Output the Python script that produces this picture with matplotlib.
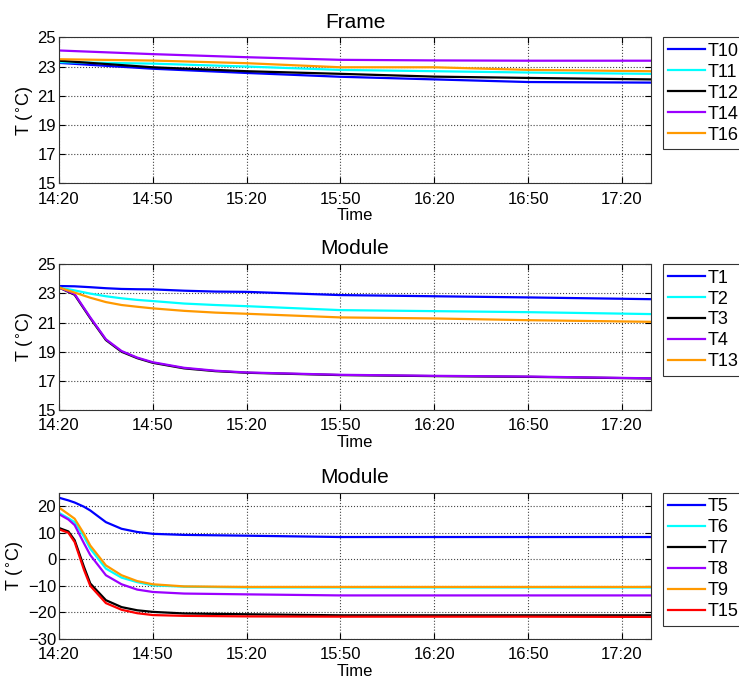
import matplotlib.pyplot as plt
from matplotlib.ticker import FixedLocator
import numpy as np

plt.rcParams['font.family'] = ['Liberation Sans', 'DejaVu Sans']

# time in minutes after 14:20
tick_min = [0, 30, 60, 90, 120, 150, 180]
tick_lab = ['14:20', '14:50', '15:20', '15:50', '16:20', '16:50', '17:20']

# Frame sensors
t_frame = [0, 30, 60, 90, 120, 150, 189]
T10 = [23.25, 22.85, 22.56, 22.30, 22.12, 21.94, 21.90]
T11 = [23.30, 23.20, 23.00, 22.77, 22.68, 22.59, 22.50]
T12 = [23.40, 22.95, 22.68, 22.50, 22.31, 22.22, 22.12]
T14 = [24.10, 23.85, 23.64, 23.46, 23.42, 23.40, 23.40]
T16 = [23.50, 23.41, 23.23, 22.95, 22.95, 22.77, 22.68]

# Module (upper) sensors
t_mod = [0, 5, 10, 15, 20, 25, 30, 40, 50, 60, 90, 120, 150, 189]
T1 = [23.50, 23.48, 23.42, 23.35, 23.30, 23.28, 23.27, 23.18, 23.12, 23.10, 22.88, 22.80, 22.72, 22.60]
T2 = [23.40, 23.20, 22.98, 22.80, 22.66, 22.55, 22.47, 22.30, 22.20, 22.12, 21.85, 21.78, 21.71, 21.58]
T3 = [23.40, 22.90, 21.30, 19.80, 19.00, 18.56, 18.24, 17.86, 17.67, 17.56, 17.40, 17.33, 17.28, 17.17]
T4 = [23.40, 22.95, 21.35, 19.85, 19.05, 18.60, 18.28, 17.90, 17.70, 17.58, 17.42, 17.35, 17.30, 17.18]
T13 = [23.40, 23.05, 22.70, 22.40, 22.20, 22.08, 21.97, 21.80, 21.68, 21.60, 21.35, 21.28, 21.16, 21.05]

# Module (lower) sensors
t_low = [0, 3, 5, 8, 10, 15, 20, 25, 30, 40, 60, 90, 120, 150, 189]
T5 = [23.2, 22.2, 21.4, 19.8, 18.4, 14.0, 11.5, 10.3, 9.6, 9.2, 8.9, 8.4, 8.4, 8.4, 8.4]
T6 = [17.5, 15.5, 14.0, 8.5, 4.0, -3.5, -6.9, -8.6, -9.8, -10.3, -10.6, -10.6, -10.6, -10.6, -10.6]
T7 = [11.8, 10.5, 7.2, -2.9, -9.1, -15.4, -18.0, -19.2, -19.8, -20.4, -20.7, -21.1, -21.1, -21.1, -21.1]
T8 = [17.0, 15.0, 12.9, 6.0, 1.6, -6.0, -9.4, -11.4, -12.3, -12.9, -13.2, -13.6, -13.6, -13.6, -13.6]
T9 = [19.5, 17.0, 15.3, 9.6, 5.2, -2.3, -6.0, -8.2, -9.4, -10.2, -10.4, -10.4, -10.4, -10.4, -10.4]
T15 = [11.3, 10.0, 6.5, -4.0, -10.0, -16.5, -19.0, -20.3, -21.0, -21.3, -21.5, -21.6, -21.6, -21.6, -21.7]

blue = '#0000ff'
cyan = '#00ffff'
black = '#000000'
purple = '#9b00ff'
orange = '#ff9900'
red = '#ff0000'

fig = plt.figure(figsize=(7.39, 6.79), dpi=100)

panels = [
    ('Frame', t_frame, [(T10, 'T10', blue), (T11, 'T11', cyan), (T12, 'T12', black),
                        (T14, 'T14', purple), (T16, 'T16', orange)],
     (15, 25), [15, 17, 19, 21, 23, 25], 0.945),
    ('Module', t_mod, [(T1, 'T1', blue), (T2, 'T2', cyan), (T3, 'T3', black),
                       (T4, 'T4', purple), (T13, 'T13', orange)],
     (15, 25), [15, 17, 19, 21, 23, 25], 0.611),
    ('Module', t_low, [(T5, 'T5', blue), (T6, 'T6', cyan), (T7, 'T7', black),
                       (T8, 'T8', purple), (T9, 'T9', orange), (T15, 'T15', red)],
     (-30, 25), [-30, -20, -10, 0, 10, 20], 0.274),
]

W, H = 739, 679
for title, t, series, ylim, yticks, top in panels:
    ax = fig.add_axes([59 / W, top - 146 / H, (651 - 59) / W, 146 / H])
    for vals, lab, col in series:
        ax.plot(t, vals, color=col, lw=1.6, label=lab)
    ax.set_xlim(0, 189.3)
    ax.set_ylim(*ylim)
    ax.xaxis.set_major_locator(FixedLocator(tick_min))
    ax.set_xticklabels(tick_lab)
    ax.set_yticks(yticks)
    ax.tick_params(direction='in', top=True, right=True, labelsize=12, length=4)
    ax.tick_params(axis='x', pad=6)
    ax.tick_params(axis='y', pad=2)
    ax.grid(True, linestyle=':', color='#444444', lw=0.8)
    ax.set_title(title, fontsize=15, pad=7)
    ax.set_xlabel('Time', fontsize=12, labelpad=1)
    ax.set_ylabel(r'T ($^{\circ}$C)', fontsize=13, labelpad=1)
    for s in ax.spines.values():
        s.set_color('#333333')
    leg = ax.legend(loc='upper left', bbox_to_anchor=(663 / W, top), bbox_transform=fig.transFigure,
                    fontsize=13, frameon=True, fancybox=False, edgecolor='black',
                    handlelength=2.0, handletextpad=0.15, labelspacing=0.22, borderpad=0.3,
                    borderaxespad=0)
    leg.get_frame().set_linewidth(0.8)

fig.savefig('out.png', dpi=100)
